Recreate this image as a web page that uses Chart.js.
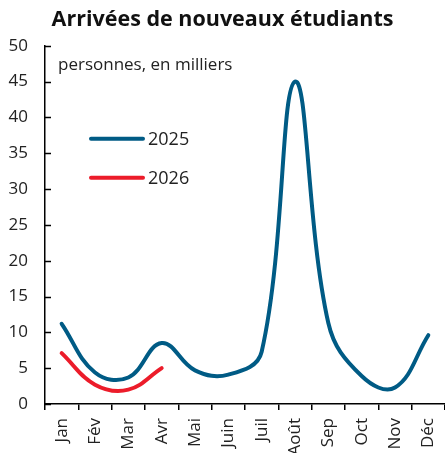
<!DOCTYPE html>
<html>
<head>
<meta charset="utf-8">
<script src="https://cdn.jsdelivr.net/npm/chart.js@4"></script>
<style>
  body { margin: 0; background: #fff; }
  #wrap { width: 445px; height: 453px; }
</style>
</head>
<body>
<div id="wrap"><canvas id="myChart" width="445" height="453"></canvas></div>
<script>
const ctx = document.querySelector('#myChart').getContext('2d');

// month labels (x axis)
const months = ['Jan', 'Fév', 'Mar', 'Avr', 'Mai', 'Juin', 'Juil', 'Août', 'Sep', 'Oct', 'Nov', 'Déc'];

// thousands of people
const arrivals2025 = [11.2, 4.4, 3.7, 8.5, 4.7, 4.1, 7.3, 45, 11.3, 3.9, 2.3, 9.6];
const arrivals2026 = [7.1, 2.7, 2.0, 5.0, null, null, null, null, null, null, null, null];

const yTicks = [0, 5, 10, 15, 20, 25, 30, 35, 40, 45, 50];

const note = 'personnes, en milliers';
const fontFamily = '"Open Sans", "Noto Sans", sans-serif';

// y ticks are drawn inside the plot, plus the unit note and a legend in the plot
const innerBits = {
  id: 'innerBits',
  afterDraw(chart) {
    const c = chart.ctx;
    const area = chart.chartArea;
    const y = chart.scales.y;
    c.save();
    c.strokeStyle = '#000';
    c.lineWidth = 1.5;
    yTicks.forEach(v => {
      const py = Math.round(y.getPixelForValue(v)) + 0.5;
      c.beginPath();
      c.moveTo(area.left, py);
      c.lineTo(area.left + 6, py);
      c.stroke();
    });

    c.fillStyle = '#222';
    c.font = '17px ' + fontFamily;
    c.textBaseline = 'middle';
    c.textAlign = 'left';
    c.fillText(note, area.left + 13, area.top + 19);

    // legend
    c.font = '18px ' + fontFamily;
    chart.data.datasets.forEach((ds, i) => {
      const ly = area.top + 93 + i * 39;
      c.strokeStyle = ds.borderColor;
      c.lineWidth = 4;
      c.lineCap = 'round';
      c.beginPath();
      c.moveTo(area.left + 46, ly);
      c.lineTo(area.left + 98, ly);
      c.stroke();
      c.fillStyle = '#222';
      c.fillText(ds.label, area.left + 103, ly + 1);
    });
    c.restore();
  }
};

const data = {
  labels: months,
  datasets: [
    {
      label: '2025',
      data: arrivals2025,
      borderColor: '#005b85',
      borderWidth: 4,
      tension: 0.4,
      pointRadius: 0,
      borderCapStyle: 'round'
    },
    {
      label: '2026',
      data: arrivals2026,
      borderColor: '#ec1c2a',
      borderWidth: 4,
      tension: 0.4,
      pointRadius: 0,
      borderCapStyle: 'round'
    }
  ]
};

const config = {
  type: 'line',
  data: data,
  plugins: [innerBits],
  options: {
    responsive: false,
    animation: false,
    layout: { padding: { left: 0, right: 0, top: 0, bottom: 0 } },
    plugins: {
      legend: { display: false },
      tooltip: { enabled: false },
      title: {
        display: true,
        text: 'Arrivées de nouveaux étudiants',
        color: '#111',
        font: { family: fontFamily, size: 21.5, weight: 'bold' },
        padding: { top: 7, bottom: 13 }
      }
    },
    scales: {
      x: {
        offset: true,
        grid: {
          offset: true,
          drawOnChartArea: false,
          tickLength: 6,
          color: '#000',
          lineWidth: 1.5
        },
        border: { color: '#000', width: 1.5 },
        ticks: {
          autoSkip: false,
          minRotation: 90,
          maxRotation: 90,
          padding: 8,
          color: '#222',
          font: { family: fontFamily, size: 17 }
        },
        afterFit(scale) {
          scale.height = 49;
          scale.paddingLeft = 0;
          scale.paddingRight = 0;
        }
      },
      y: {
        min: 0,
        max: 50,
        afterBuildTicks(scale) { scale.ticks = yTicks.map(v => ({ value: v })); },
        grid: { drawOnChartArea: false, drawTicks: false },
        border: { color: '#000', width: 1.5 },
        ticks: {
          padding: 17,
          color: '#222',
          font: { family: fontFamily, size: 17 }
        },
        afterFit(scale) { scale.width = 45; }
      }
    }
  }
};

const myChart = new Chart(ctx, config);
</script>
</body>
</html>
